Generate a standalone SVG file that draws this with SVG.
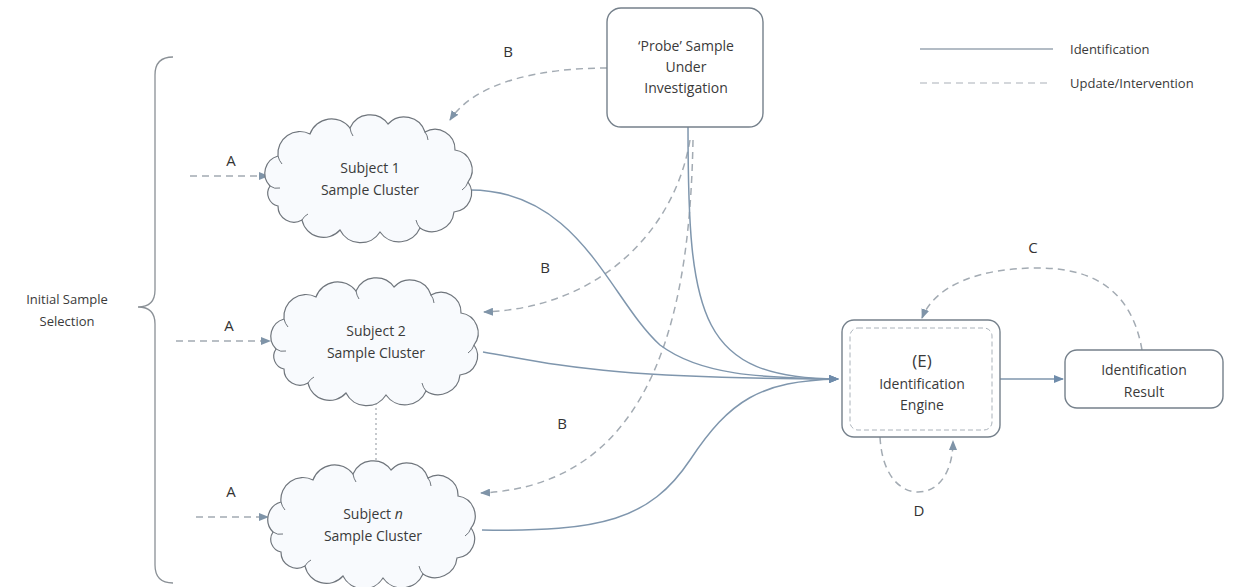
<svg xmlns="http://www.w3.org/2000/svg" width="1246" height="587" viewBox="0 0 1246 587">
<style>
text{font-family:"Open Sans","Liberation Sans",sans-serif;font-size:14px;fill:#3a3a3a;}
.lbl{font-size:15px;fill:#333;}
.solid{fill:none;stroke:#7f96ad;stroke-width:1.5;}
.dash{fill:none;stroke:#a3abb3;stroke-width:1.5;stroke-dasharray:7 5;}
.box{fill:#fff;stroke:#75808b;stroke-width:1.4;}
.cloud{fill:#f8fafd;stroke:#6f757c;stroke-width:1.2;}
.inner{fill:none;stroke:#6f757c;stroke-width:1;}
</style>
<defs>
<marker id="ah" viewBox="0 0 10 8" refX="9" refY="4" markerWidth="10" markerHeight="8" markerUnits="userSpaceOnUse" orient="auto">
<path d="M0,0 L10,4 L0,8 Z" fill="#6f8cab"/>
</marker>
<marker id="ahd" viewBox="0 0 10 8" refX="9" refY="4" markerWidth="10" markerHeight="8" markerUnits="userSpaceOnUse" orient="auto">
<path d="M0,0 L10,4 L0,8 Z" fill="#7f94a8"/>
</marker>
<g id="cloudShape">
<path class="cloud" d="M-100,8 A18,18 0 0 1 -92,-22 A22,22 0 0 1 -60,-44 A23,23 0 0 1 -20,-50 A22,22 0 0 1 18,-54 A22,22 0 0 1 55,-46 A20,20 0 0 1 85,-28 A20,20 0 0 1 98,4 A19,19 0 0 1 84,34 A22,22 0 0 1 50,50 A23,23 0 0 1 10,54 A23,23 0 0 1 -30,52 A22,22 0 0 1 -68,42 A16,16 0 0 1 -92,28 A13,13 0 0 1 -100,8 Z"/>
<path class="inner" d="M-92,-22 A18,18 0 0 0 -88,-14 M-20,-50 A20,20 0 0 0 -17,-42 M55,-46 A16,16 0 0 1 58,-38 M98,4 A14,14 0 0 1 92,12 M50,50 A18,18 0 0 1 46,42 M-68,42 A14,14 0 0 1 -62,36 M-100,8 A12,12 0 0 0 -90,10"/>
</g>
</defs>

<g id="brace">
<path d="M173,57 Q155,57 155,75 L155,290 Q155,307 138,307 Q155,307 155,324 L155,565 Q155,583 173,583" fill="none" stroke="#8a9096" stroke-width="1.3"/>
<text x="67" y="304" text-anchor="middle" style="font-size:13px">Initial Sample</text>
<text x="67" y="326" text-anchor="middle" style="font-size:13px">Selection</text>
</g>

<g id="legend">
<line x1="920" y1="49" x2="1053" y2="49" class="solid" style="stroke:#9aa6b2"/>
<text x="1070" y="54" style="font-size:13px">Identification</text>
<line x1="920" y1="83" x2="1048" y2="83" class="dash" style="stroke:#a9b0b7;stroke-width:1.2"/>
<text x="1070" y="88" style="font-size:13px">Update/Intervention</text>
</g>

<g id="connectors">
<path class="dash" d="M190,176 L268,176" marker-end="url(#ahd)"/>
<path class="dash" d="M176,341 L270,341" marker-end="url(#ahd)"/>
<path class="dash" d="M196,517 L268,517" marker-end="url(#ahd)"/>
<path class="dash" d="M607,68 C540,68 475,82 450,120" marker-end="url(#ahd)"/>
<path class="dash" d="M690,140 C675,230 600,308 484,312" marker-end="url(#ahd)"/>
<path class="dash" d="M693,140 C690,300 660,485 481,493" marker-end="url(#ahd)"/>
<path class="solid" d="M470,190 C580,190 610,300 660,345 C700,375 760,378 838,379" marker-end="url(#ah)"/>
<path class="solid" d="M688,127 C688,320 700,378 838,379" marker-end="url(#ah)"/>
<path class="solid" d="M483,352 C560,365 600,378 838,379" marker-end="url(#ah)"/>
<path class="solid" d="M482,530 C600,532 650,520 690,460 C730,400 760,381 838,379" marker-end="url(#ah)"/>
<path class="solid" d="M1000,379 L1063,379" marker-end="url(#ah)"/>
<path class="dash" d="M1142,350 C1130,280 1080,268 1037,268 C980,268 935,285 922,318" marker-end="url(#ahd)"/>
<path class="dash" d="M880,437 C882,475 900,492 918,492 C940,492 953,470 953,441" marker-end="url(#ahd)"/>
<line x1="376" y1="398" x2="376" y2="468" stroke="#a0a6ac" stroke-width="1.2" stroke-dasharray="2 3"/>
</g>

<g id="labels">
<text class="lbl" x="508" y="57" text-anchor="middle">B</text>
<text class="lbl" x="545" y="273" text-anchor="middle">B</text>
<text class="lbl" x="562" y="429" text-anchor="middle">B</text>
<text class="lbl" x="231" y="166" text-anchor="middle">A</text>
<text class="lbl" x="229" y="331" text-anchor="middle">A</text>
<text class="lbl" x="231" y="497" text-anchor="middle">A</text>
<text class="lbl" x="1033" y="253" text-anchor="middle">C</text>
<text class="lbl" x="919" y="516" text-anchor="middle">D</text>
</g>

<g id="subject1">
<use href="#cloudShape" transform="translate(370,178)"/>
<text x="370" y="173" text-anchor="middle">Subject 1</text>
<text x="370" y="195" text-anchor="middle">Sample Cluster</text>
</g>

<g id="subject2">
<use href="#cloudShape" transform="translate(376,341)"/>
<text x="376" y="336" text-anchor="middle">Subject 2</text>
<text x="376" y="358" text-anchor="middle">Sample Cluster</text>
</g>

<g id="subjectn">
<use href="#cloudShape" transform="translate(373,524)"/>
<text x="373" y="519" text-anchor="middle">Subject <tspan font-style="italic">n</tspan></text>
<text x="373" y="541" text-anchor="middle">Sample Cluster</text>
</g>

<g id="probe">
<rect class="box" x="607" y="8" width="156" height="119" rx="14"/>
<text x="686" y="51" text-anchor="middle">‘Probe’ Sample</text>
<text x="686" y="72" text-anchor="middle">Under</text>
<text x="686" y="93" text-anchor="middle">Investigation</text>
</g>

<g id="engine">
<rect class="box" x="842" y="320" width="158" height="117" rx="12"/>
<rect x="850" y="328" width="142" height="102" rx="8" fill="none" stroke="#aab2ba" stroke-width="1" stroke-dasharray="5 3"/>
<text x="922" y="367" text-anchor="middle" style="font-size:17px">(E)</text>
<text x="922" y="389" text-anchor="middle">Identification</text>
<text x="922" y="410" text-anchor="middle">Engine</text>
</g>

<g id="result">
<rect class="box" x="1065" y="350" width="158" height="58" rx="12"/>
<text x="1144" y="375" text-anchor="middle">Identification</text>
<text x="1144" y="397" text-anchor="middle">Result</text>
</g>
</svg>
